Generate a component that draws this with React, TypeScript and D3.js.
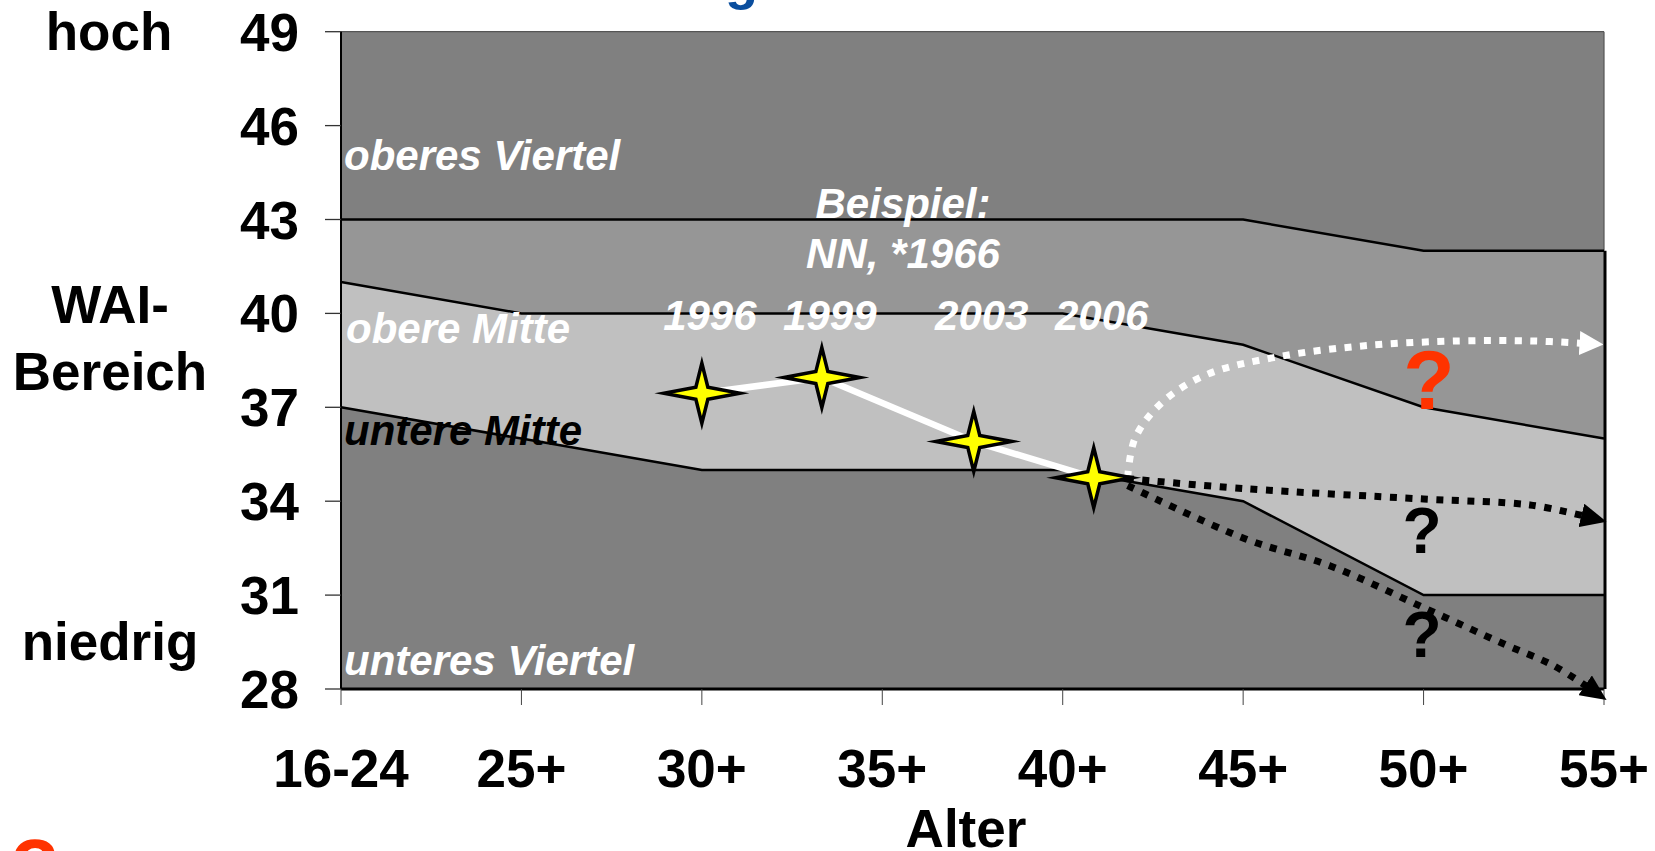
import React from "react";
import * as d3 from "d3";

// ---- data ----
const categories = ["16-24", "25+", "30+", "35+", "40+", "45+", "50+", "55+"];
const yTicks = [28, 31, 34, 37, 40, 43, 46, 49];
// band boundaries (WAI values per age group)
const lineA = [43, 43, 43, 43, 43, 43, 42, 42];
const lineB = [41, 40, 40, 40, 40, 39, 37, 36];
const lineC = [37, 36, 35, 35, 35, 34, 31, 31];
// example person NN, *1966
const years = ["1996", "1999", "2003", "2006"];
const examplePos = [2.0, 2.665, 3.507, 4.172]; // position on age axis (category index)
const exampleWAI = [37.45, 37.95, 35.91, 34.75];
// projected trends [age index, WAI]
const trendUp: [number, number][] = [
  [4.36, 34.75], [4.4, 36.0], [4.55, 37.15], [4.8, 38.05], [5.2, 38.62],
  [5.7, 38.98], [6.2, 39.12], [6.6, 39.12], [6.87, 39.05],
];
const trendFlat: [number, number][] = [
  [4.356, 34.72], [5.01, 34.4], [6.0, 34.07], [6.59, 33.88], [6.88, 33.54],
];
const trendDown: [number, number][] = [
  [4.36, 34.5], [5.01, 32.8], [5.48, 31.94], [6.0, 30.6], [6.46, 29.4],
  [6.72, 28.75], [6.9, 28.1],
];

const W = 1655;
const H = 851;
const FONT = "'Liberation Sans', Arial, sans-serif";

const x = d3.scaleLinear().domain([0, categories.length - 1]).range([341, 1604]);
const y = d3.scaleLinear().domain([28, 49]).range([689, 31.7]);

function starPath(cx: number, cy: number) {
  const hx = 38, hy = 30, r = 6;
  return `M${cx},${cy - hy} L${cx + r},${cy - r} L${cx + hx},${cy} L${cx + r},${cy + r} L${cx},${cy + hy} L${cx - r},${cy + r} L${cx - hx},${cy} L${cx - r},${cy - r} Z`;
}

export default function App() {
  const idx = categories.map((_, i) => i);
  const area = (top: number[], bottom: number[] | null) =>
    d3
      .area<number>()
      .x((i) => x(i))
      .y0((i) => (bottom ? y(bottom[i]) : y(28)))
      .y1((i) => y(top[i]))(idx) as string;
  const bandLine = (vals: number[]) =>
    d3
      .line<number>()
      .x((i) => x(i))
      .y((i) => y(vals[i]))(idx) as string;
  const topArea = d3
    .area<number>()
    .x((i) => x(i))
    .y0((i) => y(lineA[i]))
    .y1(() => y(49))(idx) as string;

  const curve = d3
    .line<[number, number]>()
    .x((d) => x(d[0]))
    .y((d) => y(d[1]))
    .curve(d3.curveCatmullRom.alpha(0.5));

  const exLine = d3
    .line<number>()
    .x((i) => x(examplePos[i]))
    .y((i) => y(exampleWAI[i]))(examplePos.map((_, i) => i)) as string;

  const italic = { fontFamily: FONT, fontWeight: 700, fontStyle: "italic", fontSize: 42 } as const;
  const bold = { fontFamily: FONT, fontWeight: 700, fontSize: 53 } as const;

  return (
    <svg
      width={W}
      height={H}
      style={{ position: "absolute", left: 0, top: 0, background: "#fff" }}
    >
      <defs>
        <marker id="arrW" markerUnits="userSpaceOnUse" markerWidth="24" markerHeight="24"
          refX="1" refY="12" orient="auto" viewBox="0 0 24 24">
          <path d="M0,0 L24,12 L0,24 Z" fill="#fff" />
        </marker>
        <marker id="arrB" markerUnits="userSpaceOnUse" markerWidth="26" markerHeight="24"
          refX="1" refY="12" orient="auto" viewBox="0 0 26 24">
          <path d="M0,0 L26,12 L0,24 Z" fill="#000" />
        </marker>
      </defs>

      {/* title fragment */}
      <text x={725} y={-1} fill="#0A4E9E" style={{ fontFamily: FONT, fontWeight: 700, fontSize: 54 }}>g</text>

      {/* bands */}
      <path d={topArea} fill="#808080" />
      <path d={area(lineA, lineB)} fill="#969696" />
      <path d={area(lineB, lineC)} fill="#C0C0C0" />
      <path d={area(lineC, null)} fill="#808080" />

      {/* plot frame */}
      <line x1={x(0)} x2={x(7)} y1={y(49)} y2={y(49)} stroke="#555" strokeWidth={1.2} />
      <line x1={x(7)} x2={x(7)} y1={y(49)} y2={y(lineA[7])} stroke="#555" strokeWidth={1.2} />
      <line x1={x(7) + 1} x2={x(7) + 1} y1={y(lineA[7])} y2={y(28)} stroke="#000" strokeWidth={3} />
      <line x1={x(0)} x2={x(0)} y1={y(49)} y2={y(28)} stroke="#000" strokeWidth={2} />

      {/* band lines */}
      {[lineA, lineB, lineC].map((l, k) => (
        <path key={k} d={bandLine(l)} fill="none" stroke="#000" strokeWidth={2.5} />
      ))}

      {/* y axis */}
      {yTicks.map((t) => (
        <g key={t}>
          <line x1={325} x2={x(0)} y1={y(t)} y2={y(t)} stroke="#333" strokeWidth={1.3} />
          <text x={299} y={y(t) + 19} textAnchor="end" style={bold}>{t}</text>
        </g>
      ))}
      {/* x axis */}
      <line x1={x(0)} x2={x(7)} y1={y(28)} y2={y(28)} stroke="#000" strokeWidth={3} />
      {categories.map((c, i) => (
        <g key={c}>
          <line x1={x(i)} x2={x(i)} y1={y(28)} y2={y(28) + 16} stroke="#444" strokeWidth={1} />
          <text x={x(i)} y={787} textAnchor="middle" style={bold}>{c}</text>
        </g>
      ))}
      <text x={966} y={847} textAnchor="middle" style={bold}>Alter</text>

      {/* y-side labels */}
      <text x={109} y={50} textAnchor="middle" style={bold}>hoch</text>
      <text x={110} y={323} textAnchor="middle" style={bold}>WAI-</text>
      <text x={110} y={390} textAnchor="middle" style={bold}>Bereich</text>
      <text x={110} y={660} textAnchor="middle" style={bold}>niedrig</text>

      {/* band labels */}
      <text x={344} y={170} fill="#fff" style={italic}>oberes Viertel</text>
      <text x={346} y={343} fill="#fff" style={italic}>obere Mitte</text>
      <text x={344} y={445} fill="#000" style={italic}>untere Mitte</text>
      <text x={344} y={675} fill="#fff" style={italic}>unteres Viertel</text>
      <text x={903} y={218} fill="#fff" textAnchor="middle" style={italic}>Beispiel:</text>
      <text x={903} y={268} fill="#fff" textAnchor="middle" style={italic}>NN, *1966</text>
      {years.map((yr, i) => (
        <text key={yr} x={x(examplePos[i]) + 8} y={330} fill="#fff" textAnchor="middle" style={italic}>{yr}</text>
      ))}

      {/* trends */}
      <path d={curve(trendUp) as string} fill="none" stroke="#fff" strokeWidth={7}
        strokeDasharray="7 8.5" markerEnd="url(#arrW)" />
      <path d={curve(trendFlat) as string} fill="none" stroke="#000" strokeWidth={7}
        strokeDasharray="7 8.5" markerEnd="url(#arrB)" />
      <path d={curve(trendDown) as string} fill="none" stroke="#000" strokeWidth={7}
        strokeDasharray="7 8.5" markerEnd="url(#arrB)" />

      {/* example line + stars */}
      <path d={exLine} fill="none" stroke="#fff" strokeWidth={6.5} />
      {examplePos.map((p, i) => (
        <path key={i} d={starPath(x(p), y(exampleWAI[i]))} fill="#FFFF00" stroke="#000"
          strokeWidth={3.5} strokeMiterlimit={12} strokeLinejoin="miter" />
      ))}

      {/* question marks */}
      <text x={1429} y={409} textAnchor="middle" fill="#FF3300"
        style={{ fontFamily: FONT, fontWeight: 700, fontSize: 84 }}>?</text>
      <text x={1422} y={553} textAnchor="middle" fill="#000"
        style={{ fontFamily: FONT, fontWeight: 700, fontSize: 64 }}>?</text>
      <text x={1422} y={657} textAnchor="middle" fill="#000"
        style={{ fontFamily: FONT, fontWeight: 700, fontSize: 64 }}>?</text>
      <text x={35} y={895} textAnchor="middle" fill="#FF3300"
        style={{ fontFamily: FONT, fontWeight: 700, fontSize: 80 }}>?</text>
    </svg>
  );
}
